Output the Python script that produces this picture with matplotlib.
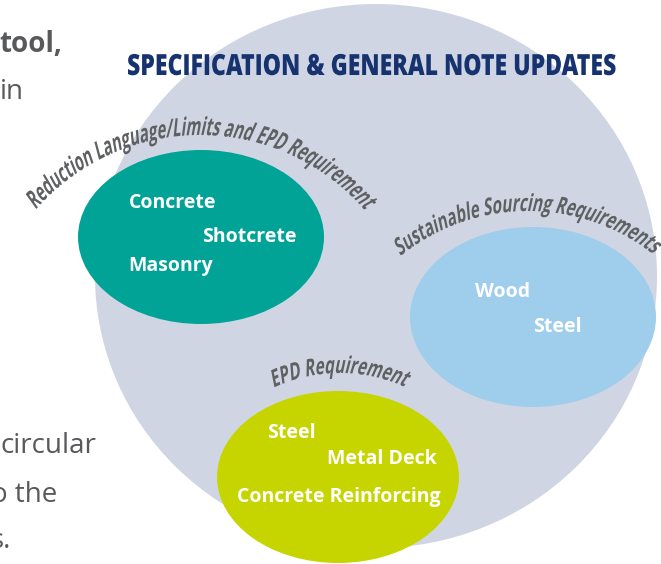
import numpy as np
import matplotlib
matplotlib.use("Agg")
import matplotlib.pyplot as plt
from matplotlib.patches import Ellipse
from matplotlib.patheffects import AbstractPathEffect
from matplotlib.transforms import Affine2D
from matplotlib.font_manager import FontProperties, findfont, get_font

W, H = 661, 564

# text content
title = "SPECIFICATION & GENERAL NOTE UPDATES"
groups = ["Reduction Language/Limits and EPD Requirement",
          "Sustainable Sourcing Requirements",
          "EPD Requirement"]
materials = [["Concrete", "Shotcrete", "Masonry"],
             ["Wood", "Steel"],
             ["Steel", "Metal Deck", "Concrete Reinforcing"]]
page_lines = ["tool,", "in", "circular", "o the", "s."]

# layout, pixels measured from the top left of the picture
big_circle = (376, 276, 281, 272)          # cx, cy, rx, ry
bubbles = [(201, 237, 123, 87), (533, 317, 123, 90), (338, 477, 121, 86)]
bubble_colors = ["#00a396", "#9fcdec", "#c6d500"]
item_pos = [[(129, 208), (202, 242), (128, 271)],
            [(475, 297), (533, 332)],
            [(267, 438), (327, 464), (237, 502)]]
# arc centre x, y, baseline radius, start / end angle, font size
arcs = [(200, 353, 218, 139, 41, 18),
        (528, 414, 203, 129, 52, 17),
        (340, 531, 158, 115, 66, 17)]
page_pos = [(62, 52, "bold"), (24, 99, "normal"), (96, 453, "normal"),
            (57, 502, "normal"), (11, 548, "normal")]

font = ["Open Sans", "DejaVu Sans"]
grey = "#5f6062"


class Stretch(AbstractPathEffect):
    # stretch the glyphs upward (and slant them) to imitate a condensed face
    def __init__(self, sy=1.0, skew=0.0):
        super().__init__()
        self.pre = Affine2D().scale(1, sy).skew_deg(skew, 0)

    def draw_path(self, renderer, gc, tpath, affine, rgbFace=None):
        renderer.draw_path(gc, tpath, self.pre + affine, rgbFace)


def advances(s, prop):
    ft = get_font(findfont(prop))
    ft.set_size(prop.get_size_in_points(), 100)
    return [ft.load_char(ord(c)).linearHoriAdvance / 65536 for c in s]


def arc_text(ax, s, cx, cy, r, a0, a1, size):
    prop = FontProperties(family=font[0], weight="bold", size=size)
    adv = advances(s, prop)
    sx = np.radians(a0 - a1) * r / sum(adv)
    small = FontProperties(family=font[0], weight="bold", size=size * sx)
    cy = H - cy
    pos = 0.0
    for ch, w in zip(s, adv):
        half = w * sx / 2
        phi = np.radians(a0) - (pos + half) / r
        px, py = cx + r * np.cos(phi), cy + r * np.sin(phi)
        tx, ty = np.sin(phi), -np.cos(phi)
        ax.text(px - tx * half, py - ty * half, ch, fontproperties=small,
                color=grey, rotation=np.degrees(phi) - 90,
                rotation_mode="anchor", ha="left", va="baseline",
                path_effects=[Stretch(1 / sx, 12)], zorder=5)
        pos += w * sx


fig = plt.figure(figsize=(W / 100, H / 100), dpi=100)
ax = fig.add_axes([0, 0, 1, 1])
ax.set_xlim(0, W)
ax.set_ylim(0, H)
ax.axis("off")

cx, cy, rx, ry = big_circle
ax.add_patch(Ellipse((cx, H - cy), 2 * rx, 2 * ry, color="#cfd5e3", lw=0, zorder=1))
for (bx, by, brx, bry), col in zip(bubbles, bubble_colors):
    ax.add_patch(Ellipse((bx, H - by), 2 * brx, 2 * bry, color=col, lw=0, zorder=2))

for items, places in zip(materials, item_pos):
    for name, (x, y) in zip(items, places):
        ax.text(x, H - y, name, family=font, weight="bold", size=14,
                color="white", ha="left", va="baseline", zorder=4)

for label, (ax_x, ax_y, r, a0, a1, size) in zip(groups, arcs):
    arc_text(ax, label, ax_x, ax_y, r, a0, a1, size)

# title: font size picked to fill the measured width, then stretched upward
tprop = FontProperties(family=font[0], weight="heavy", size=21)
tsx = 493 / sum(advances(title, tprop))
tprop.set_size(21 * tsx)
ax.text(127, H - 75, title, fontproperties=tprop, color="#17336f",
        ha="left", va="baseline", path_effects=[Stretch(1 / tsx)], zorder=5)

# bits of the surrounding page text
for line, (x, y, wt) in zip(page_lines, page_pos):
    ax.text(x, H - y, line, family=font, weight=wt, size=20,
            color="#58595b", ha="right", va="baseline", zorder=5)

fig.savefig("out.png", dpi=100, facecolor="white")
